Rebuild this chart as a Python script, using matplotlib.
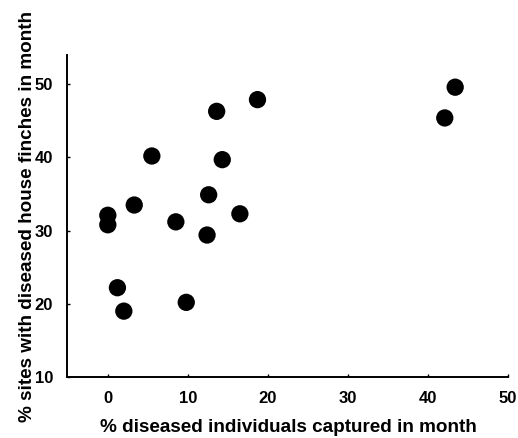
import matplotlib
matplotlib.use("Agg")
import matplotlib.pyplot as plt

plt.rcParams['font.family'] = ['Liberation Sans', 'DejaVu Sans']

# % diseased individuals captured vs % sites with diseased finches
pct_captured = [0.0, 0.0, 1.2, 2.0, 3.3, 5.5, 8.5, 9.8, 12.4, 12.6, 13.6, 14.3, 16.5, 18.7, 43.4, 42.1]
pct_sites = [32.1, 30.8, 22.2, 19.0, 33.5, 40.2, 31.2, 20.2, 29.4, 34.9, 46.3, 39.7, 32.3, 47.9, 49.6, 45.4]

x_ticks = [0, 10, 20, 30, 40, 50]
y_ticks = [10, 20, 30, 40, 50]

fig = plt.figure(figsize=(5.18, 4.38), dpi=100)
ax = fig.add_axes([67 / 518, 61 / 438, 441 / 518, 322 / 438])

ax.scatter(pct_captured, pct_sites, s=155, color='black', edgecolors='none', zorder=3, clip_on=False)

ax.set_xlim(-5.1, 50)
ax.set_ylim(10, 54)
ax.set_xticks(x_ticks)
ax.set_yticks(y_ticks)
ax.spines['top'].set_visible(False)
ax.spines['right'].set_visible(False)
ax.spines['left'].set_linewidth(1.4)
ax.spines['bottom'].set_linewidth(1.4)
ax.tick_params(axis='x', direction='in', length=2, width=1, pad=10, labelsize=12)
ax.tick_params(axis='y', direction='in', length=2, width=1, pad=10, labelsize=12)
for lbl in ax.get_xticklabels() + ax.get_yticklabels():
    lbl.set_fontweight('bold')

ax.set_xlabel('% diseased individuals captured in month', fontsize=13.6, fontweight='bold')
ax.set_ylabel('% sites with diseased house finches in month', fontsize=13.6, fontweight='bold')
ax.xaxis.set_label_coords(0.503, -0.13, transform=ax.transAxes)
ax.yaxis.set_label_coords(-0.07, 0.5, transform=ax.transAxes)

fig.savefig('out.png', dpi=100)
